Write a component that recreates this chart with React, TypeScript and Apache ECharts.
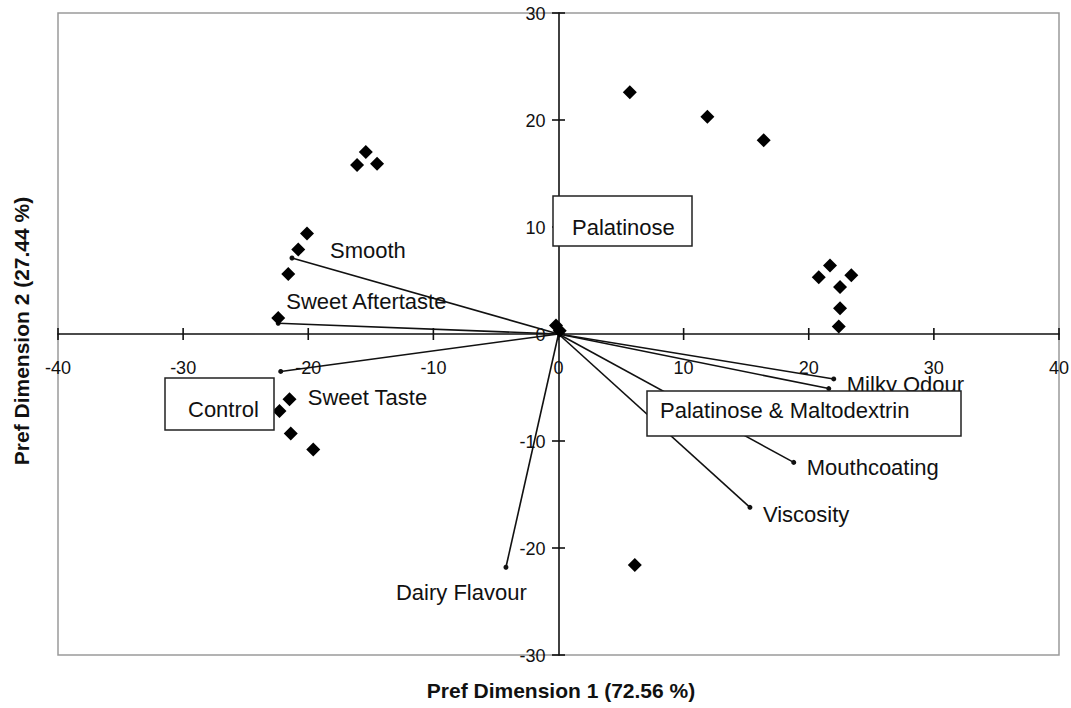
import { useEffect, useRef } from "react";
import * as echarts from "echarts";

// Axis tick values
const xTicks = [-40, -30, -20, -10, 0, 10, 20, 30, 40];
const yTicks = [-30, -20, -10, 0, 10, 20, 30];

// Sample scores on the two preference dimensions
const sampleX = [5.7, 11.9, 16.4, -15.4, -16.1, -14.5, -20.1, -20.8, -21.6, -22.4, -21.5, -22.3, -21.4, -19.6, -0.2, 0.1, 6.1, 21.7, 20.8, 23.4, 22.5, 22.5, 22.4];
const sampleY = [22.6, 20.3, 18.1, 17.0, 15.8, 15.9, 9.4, 7.9, 5.6, 1.5, -6.1, -7.2, -9.3, -10.8, 0.8, 0.3, -21.6, 6.4, 5.3, 5.5, 4.4, 2.4, 0.7];

// Sensory attribute vectors (end points)
const attributeNames = ["Smooth", "Sweet Aftertaste", "Sweet Taste", "Dairy Flavour", "Viscosity", "Mouthcoating", "Milky Odour", ""];
const attributeX = [-21.3, -22.4, -22.2, -4.2, 15.3, 18.8, 22.0, 21.6];
const attributeY = [7.1, 1.0, -3.5, -21.8, -16.2, -12.0, -4.2, -5.1];

// Label placement relative to each vector tip (px)
const labelOffsets: [number, number][] = [[38, -8], [8, -22], [27, 26], [-110, 25], [13, 7], [13, 5], [13, 6], [0, 0]];

const FONT = "'Liberation Sans', Arial, Helvetica, sans-serif";
const INK = "#111";

export default function App() {
  const ref = useRef<HTMLDivElement>(null);

  useEffect(() => {
    if (!ref.current) return;
    const chart = echarts.init(ref.current, undefined, { renderer: "svg" });

    const vectorSeries = attributeNames.map((name, i) => ({
      type: "line",
      name: name || "vector" + i,
      silent: true,
      z: 2,
      symbol: "circle",
      showSymbol: true,
      symbolSize: (_v: any, p: any) => (p.dataIndex === 1 ? 5 : 0),
      itemStyle: { color: INK },
      lineStyle: { color: INK, width: 1.6 },
      emphasis: { disabled: true },
      data: [
        { value: [0, 0], label: { show: false } },
        {
          value: [attributeX[i], attributeY[i]],
          label: {
            show: name !== "",
            formatter: name,
            position: "inside",
            align: "left",
            verticalAlign: "middle",
            offset: labelOffsets[i],
            color: INK,
            fontSize: 22,
            fontFamily: FONT,
          },
        },
      ],
    }));

    const tickLabel = {
      show: true,
      position: "inside",
      color: INK,
      fontSize: 18,
      fontFamily: FONT,
      verticalAlign: "middle",
    };

    const boxText = {
      fill: INK,
      fontSize: 22,
      fontFamily: FONT,
      verticalAlign: "middle",
    };
    const boxStyle = { fill: "#fff", stroke: "#222", lineWidth: 1.5 };

    chart.setOption({
      animation: false,
      grid: {
        left: 58,
        right: 12,
        top: 13,
        bottom: 53,
        show: true,
        borderColor: "#9a9a9a",
        borderWidth: 1.5,
        backgroundColor: "#fff",
      },
      xAxis: {
        type: "value",
        min: -40,
        max: 40,
        interval: 10,
        splitLine: { show: false },
        axisLine: { onZero: true, lineStyle: { color: INK, width: 1.6 } },
        axisTick: { show: false },
        axisLabel: { show: false },
      },
      yAxis: {
        type: "value",
        min: -30,
        max: 30,
        interval: 10,
        splitLine: { show: false },
        axisLine: { onZero: true, lineStyle: { color: INK, width: 1.6 } },
        axisTick: { show: false },
        axisLabel: { show: false },
      },
      series: [
        // tick marks crossing the axes, with their values
        {
          type: "scatter",
          silent: true,
          clip: false,
          z: 2,
          symbol: "rect",
          symbolSize: [1.6, 12],
          itemStyle: { color: INK, opacity: 1 },
          label: { ...tickLabel, align: "center", offset: [0, 34], formatter: (p: any) => String(p.value[0]) },
          data: xTicks.map((t) => [t, 0]),
        },
        {
          type: "scatter",
          silent: true,
          clip: false,
          z: 2,
          symbol: "rect",
          symbolSize: [13, 1.6],
          itemStyle: { color: INK, opacity: 1 },
          label: { ...tickLabel, align: "right", offset: [-13, 1], formatter: (p: any) => String(p.value[1]) },
          data: yTicks.map((t) => [0, t]),
        },
        ...vectorSeries,
        {
          type: "scatter",
          silent: true,
          z: 4,
          symbol: "diamond",
          symbolSize: 14,
          itemStyle: { color: "#000", opacity: 1 },
          data: sampleX.map((x, i) => [x, sampleY[i]]),
        },
      ],
      graphic: [
        {
          type: "group",
          z: 100,
          children: [
            { type: "rect", shape: { x: 553, y: 196, width: 139, height: 50 }, style: boxStyle, z: 100 },
            { type: "text", x: 572, y: 227, style: { ...boxText, text: "Palatinose" }, z: 101 },
            { type: "rect", shape: { x: 165, y: 378, width: 109, height: 52 }, style: boxStyle, z: 100 },
            { type: "text", x: 188, y: 409, style: { ...boxText, text: "Control" }, z: 101 },
            { type: "rect", shape: { x: 647, y: 391, width: 314, height: 45 }, style: boxStyle, z: 100 },
            { type: "text", x: 660, y: 410, style: { ...boxText, text: "Palatinose & Maltodextrin" }, z: 101 },
          ],
        },
        {
          type: "text",
          x: 561,
          y: 690,
          z: 100,
          style: {
            text: "Pref Dimension 1 (72.56 %)",
            fill: INK,
            fontSize: 21,
            fontWeight: "bold",
            fontFamily: FONT,
            align: "center",
            verticalAlign: "middle",
          },
        },
        {
          type: "text",
          x: 21,
          y: 331,
          rotation: Math.PI / 2,
          z: 100,
          style: {
            text: "Pref Dimension 2 (27.44 %)",
            fill: INK,
            fontSize: 21,
            fontWeight: "bold",
            fontFamily: FONT,
            align: "center",
            verticalAlign: "middle",
          },
        },
      ],
    });

    return () => chart.dispose();
  }, []);

  return (
    <div
      ref={ref}
      style={{ position: "fixed", left: 0, top: 0, width: 1071, height: 708, background: "#fff" }}
    />
  );
}
